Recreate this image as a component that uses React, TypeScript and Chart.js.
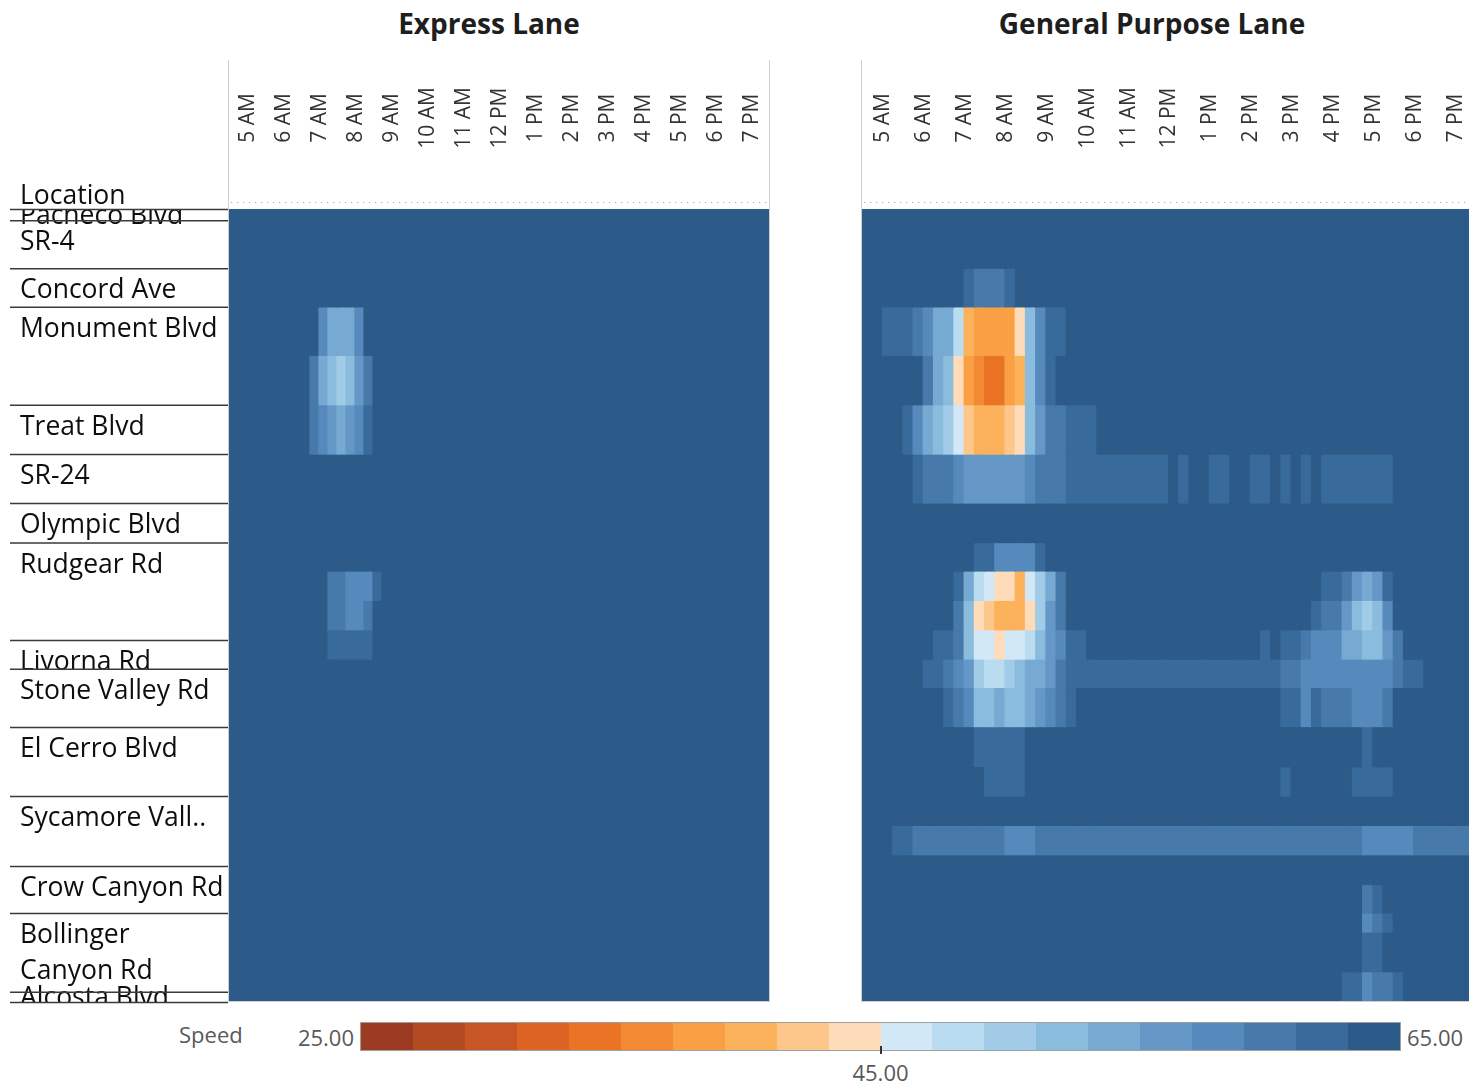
import React, { useEffect, useRef } from "react";
import { Chart, registerables } from "chart.js";

Chart.register(...registerables);

// ---------------- data ----------------
const HOUR_LABELS = ["5 AM", "6 AM", "7 AM", "8 AM", "9 AM", "10 AM", "11 AM", "12 PM", "1 PM", "2 PM", "3 PM", "4 PM", "5 PM", "6 PM", "7 PM"];
const FIRST_HOUR = 5;
const LAST_HOUR = 20;
const SLOTS_PER_HOUR = 4; // 15-minute cells

// detector segment boundaries (miles from the north end)
const SEGMENT_MILES = [0, 0.24, 1.27, 2.1, 3.14, 4.2, 5.26, 6.31, 7.16, 7.77, 8.4, 9.03, 9.66, 10.27, 11.11, 11.97, 12.6, 13.23, 13.86, 14.5, 15.11, 15.52, 16.37, 17.0];

const LOCATION_NAMES = ["Pacheco Blvd", "SR-4", "Concord Ave", "Monument Blvd", "Treat Blvd", "SR-24", "Olympic Blvd", "Rudgear Rd", "Livorna Rd", "Stone Valley Rd", "El Cerro Blvd", "Sycamore Vall..", "Crow Canyon Rd", "Bollinger\nCanyon Rd", "Alcosta Blvd"];
const LOCATION_MILES = [0, 0.24, 1.27, 2.1, 4.2, 5.26, 6.31, 7.16, 9.25, 9.87, 11.12, 12.6, 14.1, 15.11, 16.8];

// speed code: index i in this string = speed bin [25+2i, 27+2i) mph, '.' = free flow (63-65)
const SPEED_CODES = "abcdefghijklmnopqrs.";

// one string per segment, 60 quarter-hour cells (5 AM .. 8 PM), grouped by hour
const EXPRESS_ROWS = [
  ".... .... .... .... .... .... .... .... .... .... .... .... .... .... ....",
  ".... .... .... .... .... .... .... .... .... .... .... .... .... .... ....",
  ".... .... .... .... .... .... .... .... .... .... .... .... .... .... ....",
  ".... .... ..qo ooq. .... .... .... .... .... .... .... .... .... .... ....",
  ".... .... .ron mnpr .... .... .... .... .... .... .... .... .... .... ....",
  ".... .... .rqp opqs .... .... .... .... .... .... .... .... .... .... ....",
  ".... .... .... .... .... .... .... .... .... .... .... .... .... .... ....",
  ".... .... .... .... .... .... .... .... .... .... .... .... .... .... ....",
  ".... .... .... .... .... .... .... .... .... .... .... .... .... .... ....",
  ".... .... ...r rqqq s... .... .... .... .... .... .... .... .... .... ....",
  ".... .... ...r rqqr .... .... .... .... .... .... .... .... .... .... ....",
  ".... .... ...s ssss .... .... .... .... .... .... .... .... .... .... ....",
  ".... .... .... .... .... .... .... .... .... .... .... .... .... .... ....",
  ".... .... .... .... .... .... .... .... .... .... .... .... .... .... ....",
  ".... .... .... .... .... .... .... .... .... .... .... .... .... .... ....",
  ".... .... .... .... .... .... .... .... .... .... .... .... .... .... ....",
  ".... .... .... .... .... .... .... .... .... .... .... .... .... .... ....",
  ".... .... .... .... .... .... .... .... .... .... .... .... .... .... ....",
  ".... .... .... .... .... .... .... .... .... .... .... .... .... .... ....",
  ".... .... .... .... .... .... .... .... .... .... .... .... .... .... ....",
  ".... .... .... .... .... .... .... .... .... .... .... .... .... .... ....",
  ".... .... .... .... .... .... .... .... .... .... .... .... .... .... ....",
  ".... .... .... .... .... .... .... .... .... .... .... .... .... .... ....",
];

const GENERAL_ROWS = [
  ".... .... .... .... .... .... .... .... .... .... .... .... .... .... ....",
  ".... .... .... .... .... .... .... .... .... .... .... .... .... .... ....",
  ".... .... ..sr rrs. .... .... .... .... .... .... .... .... .... .... ....",
  "..ss srqo olhg gggj nqss .... .... .... .... .... .... .... .... .... ....",
  ".... ..ro njgf eegh nqs. .... .... .... .... .... .... .... .... .... ....",
  ".... sqon mkih hhij nprr sss. .... .... .... .... .... .... .... .... ....",
  ".... .srr rqpp pppp qrrr ssss ssss ss.s ..ss ..ss .s.s .sss ssss .... ....",
  ".... .... .... .... .... .... .... .... .... .... .... .... .... .... ....",
  ".... .... ...s sqqq qs.. .... .... .... .... .... .... .... .... .... ....",
  ".... .... .sol kjjh kmor .... .... .... .... .... .... .ssr pops .... ....",
  ".... .... .rnj ihhh jmpr .... .... .... .... .... .... srrp nmnq .... ....",
  ".... ...s srnk kjkk lnpq ss.. .... .... .... ...s .ssr qqqo onnp r... ....",
  ".... ..ss rqpm llmn oopr ssss ssss ssss ssss ssss srrq qqqq qqqq rss. ....",
  ".... .... srqn nonn opqr s... .... .... .... .... .ssq srrr qqqr .... ....",
  ".... .... ...s ssss .... .... .... .... .... .... .... .... .s.. .... ....",
  ".... .... .... ssss .... .... .... .... .... .... .s.. .... ssss .... ....",
  ".... .... .... .... .... .... .... .... .... .... .... .... .... .... ....",
  "...s srrr rrrr rrqq qrrr rrrr rrrr rrrr rrrr rrrr rrrr rrrr rqqq qqrr rrrr",
  ".... .... .... .... .... .... .... .... .... .... .... .... .... .... ....",
  ".... .... .... .... .... .... .... .... .... .... .... .... .rs. .... ....",
  ".... .... .... .... .... .... .... .... .... .... .... .... .qrs .... ....",
  ".... .... .... .... .... .... .... .... .... .... .... .... .ss. .... ....",
  ".... .... .... .... .... .... .... .... .... .... .... ...s sqrr s... ....",
];

const LEGEND_COLORS = [
  "#9c3b21", "#b24a22", "#c85624", "#dc6323", "#eb7326", "#f38a33", "#f9a045", "#fcb25b", "#fdc68b", "#fedcba",
  "#d3e8f7", "#b9dcf0", "#a1cbe6", "#89bcdd", "#77aad2", "#6598c7", "#568abd", "#477aaa", "#386a9b", "#2c5a89",
];
const LEGEND_MIN = 25;
const LEGEND_MID = 45;
const LEGEND_MAX = 65;

// ---------------- helpers ----------------
const FONT = "'Open Sans', 'Noto Sans', sans-serif";

function speedOf(code: string): number {
  return LEGEND_MIN + 2 * SPEED_CODES.indexOf(code) + 1;
}
function colorFor(speed: number): string {
  const step = (LEGEND_MAX - LEGEND_MIN) / LEGEND_COLORS.length;
  const idx = Math.max(0, Math.min(LEGEND_COLORS.length - 1, Math.floor((speed - LEGEND_MIN) / step)));
  return LEGEND_COLORS[idx];
}

function buildDatasets(rows: string[]) {
  return rows.map((row, r) => {
    const speeds = row.replace(/\s+/g, "").split("").map(speedOf);
    return {
      type: "bar",
      label: "seg" + r,
      data: speeds.map((s, i) => ({
        x: FIRST_HOUR + (i + 0.5) / SLOTS_PER_HOUR,
        y: [SEGMENT_MILES[r], SEGMENT_MILES[r + 1]],
        speed: s,
      })),
      backgroundColor: speeds.map(colorFor),
      borderWidth: 0,
      grouped: false,
      barPercentage: 1,
      categoryPercentage: 1,
      inflateAmount: 0.6,
    };
  });
}

function decorPlugin(drawLocations: boolean) {
  return {
    id: "panelDecor",
    afterDraw(chart: any) {
      const { ctx, chartArea } = chart;
      const xs = chart.scales.x;
      const ys = chart.scales.y;
      ctx.save();

      // panel borders
      ctx.strokeStyle = "#cfcfcf";
      ctx.lineWidth = 1;
      ctx.beginPath();
      ctx.moveTo(Math.round(chartArea.left) - 0.5, 60);
      ctx.lineTo(Math.round(chartArea.left) - 0.5, chartArea.bottom + 1);
      ctx.moveTo(Math.round(chartArea.right) + 0.5, 60);
      ctx.lineTo(Math.round(chartArea.right) + 0.5, chartArea.bottom + 1);
      ctx.moveTo(chartArea.left, Math.round(chartArea.bottom) + 0.5);
      ctx.lineTo(chartArea.right, Math.round(chartArea.bottom) + 0.5);
      ctx.stroke();

      // dotted header separator
      ctx.strokeStyle = "#a8a8a8";
      ctx.setLineDash([1.2, 4.8]);
      ctx.beginPath();
      ctx.moveTo(chartArea.left + 2, chartArea.top - 6.5);
      ctx.lineTo(chartArea.right, chartArea.top - 6.5);
      ctx.stroke();
      ctx.setLineDash([]);

      // hour labels (rotated)
      ctx.fillStyle = "#333333";
      ctx.font = `21px ${FONT}`;
      ctx.textAlign = "center";
      ctx.textBaseline = "middle";
      HOUR_LABELS.forEach((lab, i) => {
        const px = xs.getPixelForValue(FIRST_HOUR + i + 0.5);
        ctx.save();
        ctx.translate(px + 1, 118);
        ctx.rotate(-Math.PI / 2);
        ctx.fillText(lab, 0, 0);
        ctx.restore();
      });

      if (drawLocations) {
        const labelLeft = 20;
        const lineLeft = 10;
        const lineRight = chartArea.left - 1;
        ctx.font = `500 26.5px ${FONT}`;
        ctx.fillStyle = "#0e0e0e";
        ctx.textAlign = "left";
        ctx.textBaseline = "alphabetic";

        ctx.save();
        ctx.beginPath();
        ctx.rect(0, chartArea.top, lineRight, chartArea.bottom + 1 - chartArea.top);
        ctx.clip();
        LOCATION_NAMES.forEach((name, i) => {
          const top = ys.getPixelForValue(LOCATION_MILES[i]);
          const bottom = i + 1 < LOCATION_NAMES.length ? ys.getPixelForValue(LOCATION_MILES[i + 1]) : chartArea.bottom;
          const lines = name.split("\n");
          if (bottom - top >= 24) {
            lines.forEach((ln, k) => ctx.fillText(ln, labelLeft, top + 30 + k * 36));
          } else {
            ctx.fillText(lines[0], labelLeft, (top + bottom) / 2 + 9.5);
          }
        });
        ctx.restore();

        ctx.fillText("Location", labelLeft, chartArea.top - 5);

        ctx.strokeStyle = "#3a3a3a";
        ctx.lineWidth = 1.5;
        ctx.beginPath();
        LOCATION_MILES.forEach((m) => {
          const py = ys.getPixelForValue(m);
          ctx.moveTo(lineLeft, py + 0.5);
          ctx.lineTo(lineRight, py + 0.5);
        });
        ctx.moveTo(lineLeft, chartArea.bottom + 1.5);
        ctx.lineTo(lineRight, chartArea.bottom + 1.5);
        ctx.stroke();
      }
      ctx.restore();
    },
  };
}

function makeChart(canvas: HTMLCanvasElement, rows: string[], padding: any, drawLocations: boolean) {
  return new Chart(canvas, {
    type: "bar",
    data: { datasets: buildDatasets(rows) as any },
    options: {
      animation: false,
      responsive: false,
      devicePixelRatio: 1,
      events: [],
      layout: { padding },
      scales: {
        x: { type: "linear", min: FIRST_HOUR, max: LAST_HOUR, offset: false, display: false, ticks: { stepSize: 1 } },
        y: { type: "linear", min: SEGMENT_MILES[0], max: SEGMENT_MILES[SEGMENT_MILES.length - 1], reverse: true, display: false },
      },
      plugins: { legend: { display: false }, tooltip: { enabled: false }, title: { display: false } },
    } as any,
    plugins: [decorPlugin(drawLocations)],
  });
}

// ---------------- component ----------------
export default function App() {
  const leftRef = useRef<HTMLCanvasElement>(null);
  const rightRef = useRef<HTMLCanvasElement>(null);

  useEffect(() => {
    document.documentElement.style.overflow = "hidden";
    const left = makeChart(leftRef.current!, EXPRESS_ROWS, { left: 229, right: 6, top: 209, bottom: 9 }, true);
    const right = makeChart(rightRef.current!, GENERAL_ROWS, { left: 82, right: 25, top: 209, bottom: 9 }, false);
    return () => {
      left.destroy();
      right.destroy();
    };
  }, []);

  const legendLeft = 360;
  const legendWidth = 1041;
  const midX = legendLeft + ((LEGEND_MID - LEGEND_MIN) / (LEGEND_MAX - LEGEND_MIN)) * legendWidth;

  const titleStyle: React.CSSProperties = {
    position: "absolute",
    top: 3,
    width: 420,
    textAlign: "center",
    fontWeight: 700,
    fontSize: 28,
    lineHeight: "40px",
    color: "#1e1e1e",
    fontFamily: FONT,
  };
  const legendText: React.CSSProperties = {
    position: "absolute",
    fontSize: 22,
    lineHeight: "28px",
    color: "#595959",
    fontFamily: FONT,
  };

  return (
    <div style={{ position: "absolute", left: 0, top: 0, width: 1469, height: 1084, overflow: "hidden", background: "#fff" }}>
      <div style={{ ...titleStyle, left: 489 - 210 }}>Express Lane</div>
      <div style={{ ...titleStyle, left: 1152 - 210 }}>General Purpose Lane</div>
      <canvas ref={leftRef} width={775} height={1010} style={{ position: "absolute", left: 0, top: 0 }} />
      <canvas ref={rightRef} width={720} height={1010} style={{ position: "absolute", left: 780, top: 0 }} />

      <div style={{ ...legendText, left: 179, top: 1020 }}>Speed</div>
      <div style={{ ...legendText, left: 254, width: 100, textAlign: "right", top: 1023 }}>{LEGEND_MIN.toFixed(2)}</div>
      <div
        style={{
          position: "absolute",
          left: legendLeft,
          top: 1022,
          width: legendWidth,
          height: 29,
          boxSizing: "border-box",
          border: "1px solid #a0a0a0",
          display: "flex",
        }}
      >
        {LEGEND_COLORS.map((c, i) => (
          <div key={i} style={{ flex: 1, background: c }} />
        ))}
      </div>
      <div style={{ ...legendText, left: legendLeft + legendWidth + 6, top: 1023 }}>{LEGEND_MAX.toFixed(2)}</div>
      <div style={{ position: "absolute", left: midX - 1, top: 1046, width: 2, height: 8, background: "#333" }} />
      <div style={{ ...legendText, left: midX - 60, width: 120, textAlign: "center", top: 1058 }}>{LEGEND_MID.toFixed(2)}</div>
    </div>
  );
}
